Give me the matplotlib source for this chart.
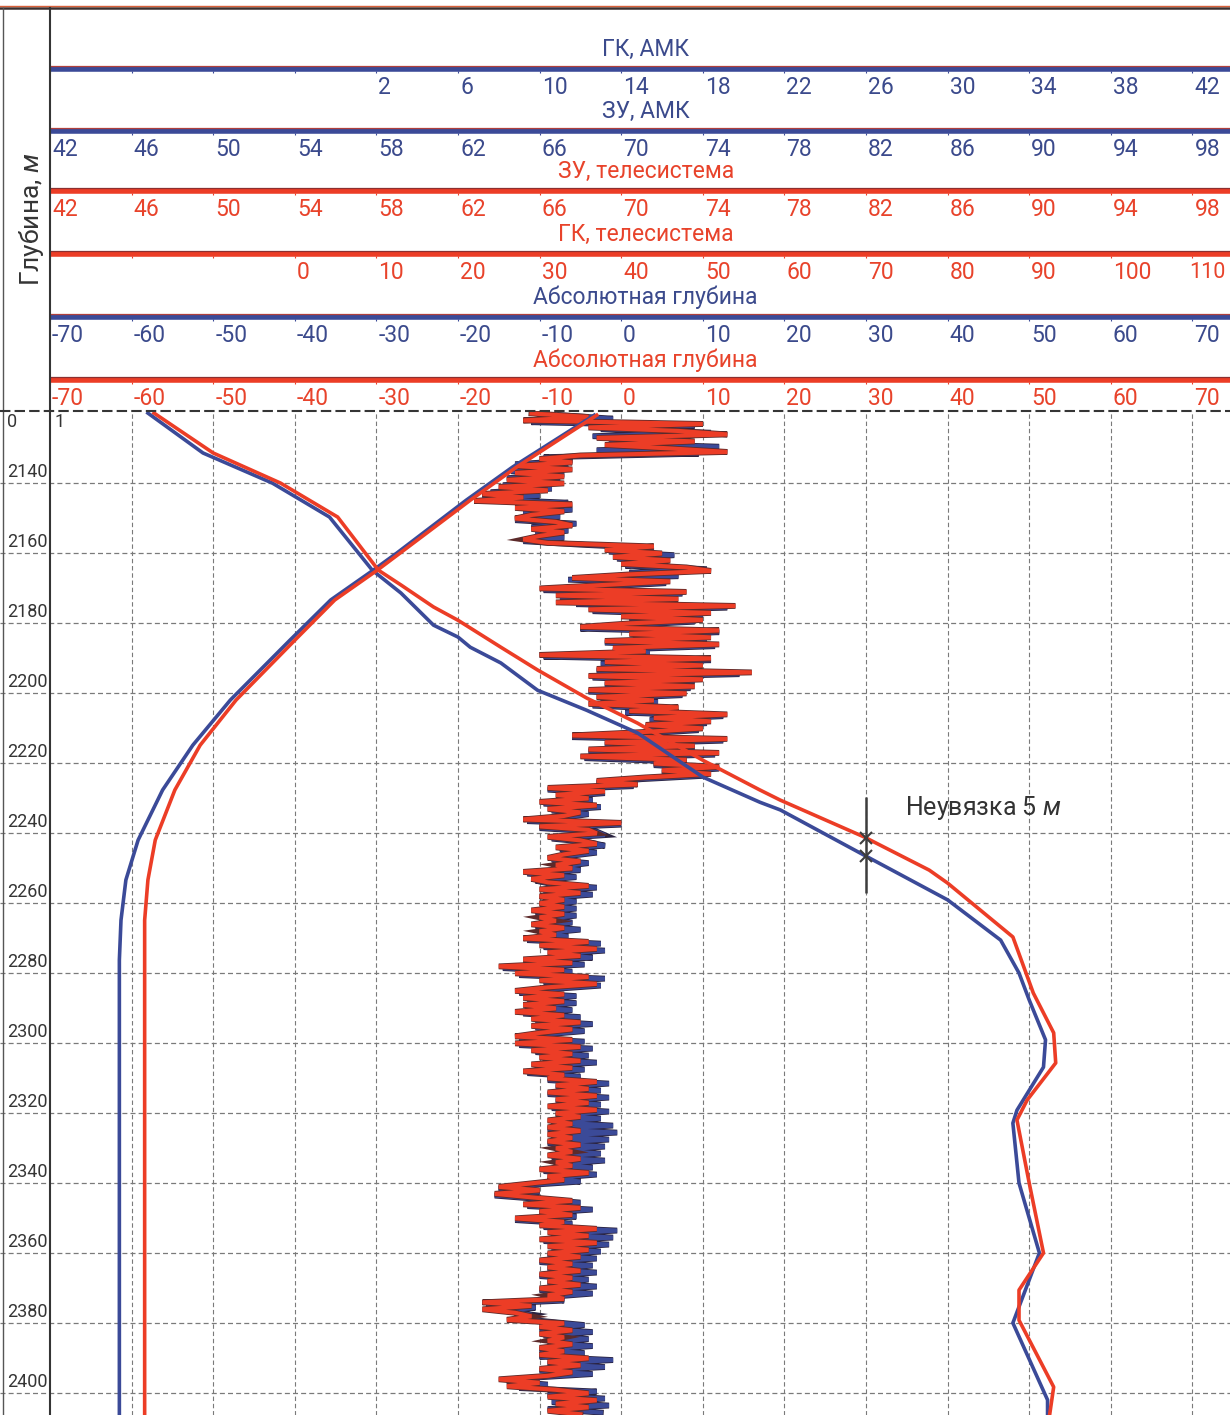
import numpy as np
import matplotlib.pyplot as plt
import matplotlib.patheffects as pe
from matplotlib import transforms
from matplotlib.lines import Line2D

plt.rcParams['font.family'] = ['Roboto', 'DejaVu Sans']
plt.rcParams['mathtext.fontset'] = 'custom'
plt.rcParams['mathtext.rm'] = 'Roboto'
plt.rcParams['mathtext.it'] = 'Roboto:italic'

BLUE = '#3b4a98'
RED = '#ec3d26'
BLUE_TXT = '#3b4a8c'
RED_TXT = '#e8432b'
DARK = '#353535'
GRID = '#7a7a7a'

# header scales: value at the left edge of the track, value per grid division
SC_GK_AMK = (-14, 4)
SC_ZU = (42, 4)
SC_GK_TEL = (-30, 10)
SC_ABS = (-70, 10)

gk_amk_ticks = [2, 6, 10, 14, 18, 22, 26, 30, 34, 38, 42]
zu_ticks = [42, 46, 50, 54, 58, 62, 66, 70, 74, 78, 82, 86, 90, 94, 98]
gk_tel_ticks = [0, 10, 20, 30, 40, 50, 60, 70, 80, 90, 100, 110]
abs_ticks = [-70, -60, -50, -40, -30, -20, -10, 0, 10, 20, 30, 40, 50, 60, 70]
depth_ticks = [2140, 2160, 2180, 2200, 2220, 2240, 2260, 2280, 2300, 2320, 2340, 2360, 2380, 2400]

# ГК телесистема, 1 m step from 2120 m
gk_tel = [29, 36, 28, 50, 36, 47, 53, 37, 49, 38,
          46, 53, 35, 30, 34, 27, 34, 27, 33, 26,
          33, 25, 31, 23, 28, 22, 34, 27, 33, 29,
          27, 32, 34, 29, 33, 30, 28, 31, 44, 38,
          45, 39, 46, 40, 48, 51, 41, 34, 46, 38,
          30, 48, 32, 47, 32, 54, 36, 51, 40, 50,
          41, 35, 52, 41, 51, 38, 52, 39, 43, 30,
          51, 38, 50, 37, 56, 36, 50, 38, 49, 36,
          48, 37, 44, 36, 47, 41, 53, 44, 51, 43,
          50, 43, 34, 53, 38, 49, 36, 52, 35, 48,
          44, 52, 45, 51, 43, 37, 42, 31, 38, 32,
          36, 30, 37, 31, 35, 33, 28, 40, 30, 36,
          37, 31, 35, 37, 32, 36, 33, 31, 35, 32,
          34, 28, 33, 29, 31, 36, 30, 35, 30, 33,
          30, 33, 29, 33, 30, 32, 29, 33, 30, 32,
          28, 36, 30, 37, 31, 35, 28, 34, 25, 33,
          27, 36, 30, 37, 31, 27, 33, 28, 33, 28,
          32, 27, 33, 29, 35, 29, 34, 30, 27, 34,
          27, 35, 29, 34, 30, 35, 29, 34, 28, 33,
          31, 37, 32, 36, 31, 37, 32, 36, 31, 37,
          32, 35, 31, 34, 31, 35, 31, 34, 31, 35,
          32, 34, 31, 35, 32, 34, 30, 36, 31, 33,
          29, 25, 30, 24.5, 29, 34, 28, 35, 30, 34,
          27, 33, 30, 37, 31, 36, 30, 37, 31, 36,
          31, 35, 30, 34, 31, 35, 30, 34, 31, 35,
          30, 34, 31, 33, 23, 29, 23, 27, 29, 26,
          33, 30, 34, 30, 33, 31, 34, 30, 33, 30,
          36, 31, 35, 30, 34, 31, 25, 30, 26, 32,
          36, 31, 37, 32, 36, 31, 35]
gk_tel_depth = 2120 + np.arange(len(gk_tel))

# ГК АМК, 1 m step from 2120.5 m
gk_amk = [11.0, 13.6, 9.6, 17.6, 13.0, 18.4, 12.6, 17.2, 13.4, 18.8,
          12.8, 17.8, 10.2, 11.6, 8.8, 11.4, 8.6, 11.2, 8.4, 11.0,
          8.2, 10.6, 7.6, 10.0, 7.2, 11.4, 9.0, 11.6, 9.2, 11.0,
          8.8, 11.8, 9.6, 11.4, 9.8, 11.2, 9.2, 12.0, 15.6, 13.4,
          16.6, 13.8, 16.0, 14.2, 18.2, 14.4, 16.8, 11.4, 16.2, 13.0,
          10.2, 17.0, 11.0, 16.4, 11.8, 19.2, 12.6, 18.0, 14.4, 17.6,
          14.2, 12.0, 18.8, 14.6, 18.2, 13.2, 18.6, 13.6, 15.4, 10.2,
          18.4, 13.0, 17.8, 12.8, 19.8, 12.6, 17.6, 13.2, 17.4, 12.4,
          17.0, 13.0, 15.8, 12.6, 16.6, 14.2, 19.0, 15.4, 18.2, 15.2,
          17.8, 15.0, 11.6, 19.0, 13.2, 17.6, 12.4, 18.6, 12.2, 17.0,
          15.6, 18.8, 16.0, 18.2, 15.0, 12.8, 14.6, 10.4, 13.2, 11.0,
          12.6, 10.2, 13.0, 10.6, 12.4, 11.2, 9.4, 14.0, 10.0, 12.8,
          13.2, 10.6, 12.4, 13.2, 11.0, 12.8, 11.4, 10.6, 12.4, 11.0,
          12.0, 9.4, 11.8, 9.8, 10.6, 12.8, 10.2, 12.6, 10.2, 11.8,
          10.2, 11.8, 9.8, 11.8, 10.2, 11.6, 9.8, 12.0, 10.2, 11.4,
          9.4, 13.0, 10.2, 13.2, 10.6, 12.6, 9.4, 12.2, 8.2, 11.6,
          9.0, 13.2, 10.2, 13.0, 10.6, 9.0, 11.8, 9.4, 11.8, 9.4,
          11.6, 9.2, 12.0, 9.8, 12.6, 9.8, 12.2, 10.2, 9.0, 12.2,
          9.0, 12.6, 9.8, 12.4, 10.2, 12.8, 9.8, 12.2, 9.4, 12.0,
          10.4, 13.4, 10.8, 13.0, 10.4, 13.4, 10.8, 13.0, 10.6, 13.4,
          10.8, 13.0, 10.6, 13.6, 10.4, 13.8, 10.6, 13.4, 10.4, 13.2,
          10.8, 13.0, 10.6, 13.2, 10.8, 12.6, 10.2, 12.8, 10.6, 12.0,
          9.4, 8.0, 10.0, 7.8, 10.0, 12.0, 9.4, 12.6, 10.0, 11.8,
          8.8, 11.6, 10.2, 13.8, 10.6, 13.6, 10.2, 13.4, 10.6, 13.0,
          10.4, 12.8, 10.0, 12.6, 10.4, 12.8, 10.0, 12.4, 10.4, 12.8,
          10.0, 12.6, 10.4, 11.2, 7.4, 9.8, 8.4, 9.6, 8.8, 10.4,
          12.2, 10.0, 12.6, 10.2, 12.4, 10.4, 12.6, 10.0, 12.2, 10.0,
          13.6, 10.4, 13.2, 10.0, 12.6, 9.8, 8.4, 10.4, 9.0, 12.8,
          10.4, 13.2, 10.6, 13.4, 10.4, 13.0]
gk_amk_depth = 2120.5 + np.arange(len(gk_amk))

# ЗУ (зенитный угол), град
zu_amk_depth = [2119.9, 2131.3, 2139.9, 2149.6, 2164.8, 2171.3, 2180.5, 2183.9, 2186.8,
                2191.3, 2199.1, 2204.8, 2211.3, 2223.9, 2231.1, 2233.3, 2246.2, 2259.0,
                2270.5, 2279.9, 2287.6, 2299.0, 2306.8, 2319.1, 2322.8, 2339.9, 2359.9,
                2379.9, 2401.9, 2406.2]
zu_amk = [46.8, 49.5, 52.9, 55.7, 57.8, 59.2, 60.8, 62.0, 62.6,
          64.1, 65.9, 68.3, 70.8, 74.0, 76.8, 77.8, 81.9, 86.0,
          88.6, 89.5, 90.0, 90.8, 90.7, 89.4, 89.2, 89.5, 90.5,
          89.2, 90.9, 90.9]
zu_tel_depth = [2119.9, 2131.3, 2139.9, 2149.6, 2164.8, 2169.0, 2175.3, 2179.1, 2181.3,
                2186.8, 2193.3, 2201.3, 2208.5, 2219.1, 2227.6, 2230.5, 2241.0, 2250.5,
                2254.2, 2269.6, 2285.6, 2297.0, 2305.6, 2316.2, 2321.9, 2339.9, 2359.9,
                2370.5, 2379.1, 2398.2, 2406.2]
zu_tel = [47.1, 50.0, 53.3, 56.1, 58.1, 59.2, 60.8, 62.0, 62.6,
          64.1, 65.9, 68.3, 70.8, 74.0, 76.8, 77.8, 81.9, 85.1,
          86.0, 89.2, 90.2, 91.2, 91.3, 89.9, 89.4, 90.0, 90.7,
          89.5, 89.5, 91.2, 91.0]

# абсолютная глубина
abs_depth_md = [2120.5, 2135.3, 2144.8, 2159.9, 2164.8, 2173.3, 2184.8, 2201.9,
                2214.8, 2227.6, 2241.9, 2253.3, 2264.8, 2276.2, 2406.2]
abs_amk = [-3.3, -13.3, -19.0, -27.5, -30.4, -35.6, -40.6, -47.9,
           -52.5, -56.2, -59.2, -60.7, -61.3, -61.5, -61.5]
abs_tel = [-3.0, -12.8, -18.5, -27.1, -29.9, -35.1, -40.0, -47.2,
           -51.6, -54.7, -57.1, -58.0, -58.4, -58.4, -58.4]

MISFIT_ANGLE = 82


def to_track(v, sc):
    return -70 + 10 * (np.asarray(v, float) - sc[0]) / sc[1]


W, H = 1230.0, 1415.0
TOP = 411.0
X0 = 50.0
XMAX = -70 + 10 * (W - X0) / 81.6

fig = plt.figure(figsize=(W / 100, H / 100), dpi=100)
fig.patch.set_facecolor('white')

ax = fig.add_axes([X0 / W, 0, (W - X0) / W, (H - TOP) / H])
ax.set_xlim(-70, XMAX)
ax.set_ylim(2406.2, 2119.3)
ax.set_xticks([])
ax.set_yticks([])
for s in ax.spines.values():
    s.set_visible(False)

dash = (0, (4, 2.5))
for v in abs_ticks[1:]:
    ax.axvline(v, color=GRID, lw=0.8, ls=dash, zorder=1)
for d in depth_ticks:
    ax.axhline(d, xmin=-X0 / (W - X0), xmax=1, color=GRID, lw=0.9, ls=dash,
               clip_on=False, zorder=1)

lab_tr = transforms.blended_transform_factory(ax.transAxes, ax.transData)
for d in depth_ticks:
    ax.text(-43 / (W - X0), d - 0.6, str(d), transform=lab_tr, ha='left', va='bottom',
            fontsize=13, color=DARK, clip_on=False)
ax.text(-43 / (W - X0), 2119.8, '0', transform=lab_tr, ha='left', va='top',
        fontsize=13, color=DARK, clip_on=False)
ax.text(5 / (W - X0), 2119.8, '1', transform=lab_tr, ha='left', va='top',
        fontsize=13, color=DARK, clip_on=False)

# gamma logs
edge = [pe.Stroke(linewidth=4.2, foreground='#2a2340'), pe.Normal()]
ax.plot(to_track(gk_amk, SC_GK_AMK), gk_amk_depth, color=BLUE, lw=3.0,
        path_effects=edge, zorder=3, solid_joinstyle='miter')
edge_r = [pe.Stroke(linewidth=4.2, foreground='#5c2a2a'), pe.Normal()]
ax.plot(to_track(gk_tel, SC_GK_TEL), gk_tel_depth, color=RED, lw=3.0,
        path_effects=edge_r, zorder=4, solid_joinstyle='miter')

# inclination and true vertical depth
ax.plot(to_track(zu_amk, SC_ZU), zu_amk_depth, color=BLUE, lw=2.6, zorder=5)
ax.plot(to_track(zu_tel, SC_ZU), zu_tel_depth, color=RED, lw=2.6, zorder=6)
ax.plot(to_track(abs_amk, SC_ABS), abs_depth_md, color=BLUE, lw=2.6, zorder=5)
ax.plot(to_track(abs_tel, SC_ABS), abs_depth_md, color=RED, lw=2.6, zorder=6)

# depth misfit between the two inclination curves
xm = float(to_track(MISFIT_ANGLE, SC_ZU))
ka = int(np.argmax(zu_amk)) + 1
kt = int(np.argmax(zu_tel)) + 1
d_amk = np.interp(MISFIT_ANGLE, zu_amk[:ka], zu_amk_depth[:ka])
d_tel = np.interp(MISFIT_ANGLE, zu_tel[:kt], zu_tel_depth[:kt])
ax.vlines(xm, 2229.6, 2257.1, color='#3d3d3d', lw=1.8, zorder=7)
ax.plot([xm, xm], [d_tel, d_amk], ls='none', marker='x', ms=9, mew=1.5,
        color='#3d3d3d', zorder=8)
ax.text(34.8, 2232.8, 'Неувязка 5 $\\mathit{м}$', fontsize=18, color='#333333',
        ha='left', va='center', zorder=8)

# header with the track scales
hax = fig.add_axes([X0 / W, (H - TOP) / H, (W - X0) / W, TOP / H])
hax.set_xlim(-70, XMAX)
hax.set_ylim(TOP, 0)
hax.axis('off')

rows = [
    ('ГК, АМК', 69, BLUE, BLUE_TXT, gk_amk_ticks, SC_GK_AMK),
    ('ЗУ, АМК', 131, BLUE, BLUE_TXT, zu_ticks, SC_ZU),
    ('ЗУ, телесистема', 191, RED, RED_TXT, zu_ticks, SC_ZU),
    ('ГК, телесистема', 254, RED, RED_TXT, gk_tel_ticks, SC_GK_TEL),
    ('Абсолютная глубина', 317, BLUE, BLUE_TXT, abs_ticks, SC_ABS),
    ('Абсолютная глубина', 380, RED, RED_TXT, abs_ticks, SC_ABS),
]
for title, ly, lc, tc, ticks, sc in rows:
    hax.hlines(ly, -70, XMAX, color=lc, lw=4.0)
    hax.hlines(ly - 2.8, -70, XMAX, color='#b0403c' if lc == BLUE else '#8c3030', lw=0.9)
    hax.text(3.0, ly - 20, title, color=tc, fontsize=16.5, ha='center', va='center')
    for t in ticks:
        tx = float(to_track(t, sc)) + 0.25
        if len(str(t)) > 2 and tx > XMAX - 5:
            # keep the last three-digit label inside the track
            hax.text(XMAX - 0.6, ly + 18.5, str(t), color=tc, fontsize=15.5,
                     ha='right', va='center')
        else:
            hax.text(tx, ly + 18.5, str(t), color=tc, fontsize=16.5,
                     ha='left', va='center')
    hax.vlines(abs_ticks, ly + 1.5, ly + 4, color=lc, lw=0.8)

# frame of the depth column
fig.add_artist(Line2D([0, 1], [1 - 8 / H] * 2, color='#3a3030', lw=1.8))
fig.add_artist(Line2D([0, 1], [1 - 5.5 / H] * 2, color='#d8603a', lw=1.0))
fig.add_artist(Line2D([X0 / W] * 2, [0, 1 - 8 / H], color=DARK, lw=1.5))
fig.add_artist(Line2D([3 / W] * 2, [0, 1 - 8 / H], color='#555555', lw=1.0))
fig.add_artist(Line2D([0, 1], [(H - TOP) / H] * 2, color=DARK, lw=1.5, ls=(0, (5, 2))))
fig.text(31 / W, 1 - 219 / H, 'Глубина, $\\mathit{м}$', rotation=90, fontsize=19,
         color=DARK, ha='center', va='center')

fig.savefig('out.png', dpi=100, facecolor='white')
